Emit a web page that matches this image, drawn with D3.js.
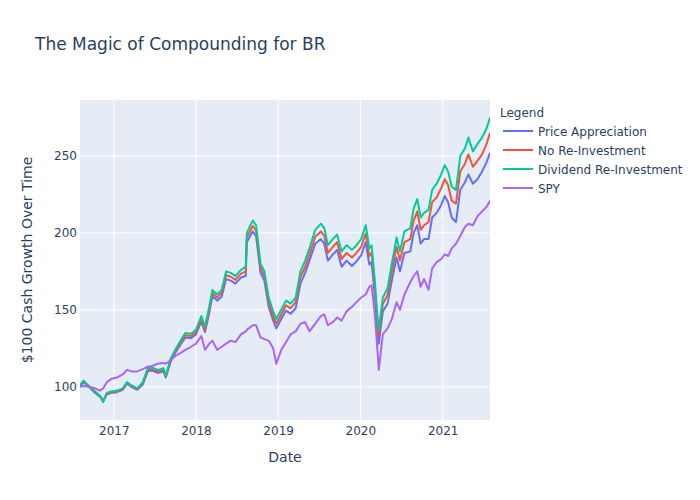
<!DOCTYPE html>
<html>
<head>
<meta charset="utf-8">
<script src="https://cdn.jsdelivr.net/npm/d3@7"></script>
<style>
  body { margin: 0; background: #fff; }
  text { font-family: "DejaVu Sans", Verdana, sans-serif; fill: #2a3f5f; }
</style>
</head>
<body>
<div id="chart_div"></div>
<script>
// values ($100 invested, growth over time)
var dates = ["2016-08-04","2016-08-20","2016-09-15","2016-10-10","2016-11-01","2016-11-15","2016-12-01","2016-12-20",
  "2017-01-15","2017-02-10","2017-03-01","2017-03-20","2017-04-15","2017-05-10","2017-06-01","2017-06-20",
  "2017-07-15","2017-08-10","2017-08-20","2017-09-10","2017-10-01","2017-10-25","2017-11-15","2017-12-10",
  "2018-01-01","2018-01-25","2018-02-10","2018-03-01","2018-03-15","2018-04-05","2018-04-25","2018-05-15",
  "2018-06-05","2018-06-25","2018-07-20","2018-08-10","2018-08-15","2018-09-10","2018-09-25","2018-10-15",
  "2018-11-01","2018-11-20","2018-12-10","2018-12-24","2019-01-15","2019-02-05","2019-02-25","2019-03-20",
  "2019-04-10","2019-05-01","2019-05-20","2019-06-15","2019-07-10","2019-07-25","2019-08-10","2019-09-01",
  "2019-09-20","2019-10-10","2019-11-01","2019-11-25","2019-12-15","2020-01-05","2020-01-25","2020-02-10",
  "2020-02-20","2020-03-05","2020-03-20","2020-03-23","2020-04-10","2020-05-01","2020-05-20","2020-06-10",
  "2020-06-25","2020-07-15","2020-08-10","2020-08-25","2020-09-10","2020-09-25","2020-10-10","2020-10-30",
  "2020-11-15","2020-12-05","2020-12-25","2021-01-10","2021-01-25","2021-02-10","2021-03-01","2021-03-20",
  "2021-04-10","2021-04-25","2021-05-15","2021-06-05","2021-06-25","2021-07-15","2021-07-30"];

var price_appreciation = [100,103,99.5,96,93.5,91,95,96,
  96.5,98,102,100,98,101.5,110,110.5,
  109,110,106,116,122,127.5,132,131.5,
  134,142.5,135.5,148,159,156,158.5,170,
  169,167,171,172,194,201,198,174,
  169,152,143,138,144,149.5,147.5,151,
  167,174,182,193,196,193,182,186,
  189,178,182,178.5,181.5,185.5,194,179.5,
  181,160,131,128,149,154,169,184,
  175,187,188,200,205,193,196,196,
  210,213,218,224,220,210,207,228,
  233,238,232,235,240,246,252];

var no_reinvestment = [101,103.5,100,96.5,94,90.5,95.5,96.5,
  97,98.5,102.5,100.5,98.5,102.5,111,111.5,
  110,111,106.5,117,123,129,133.5,133,
  135.5,144,137,150,161,158,161,172.5,
  171.5,169.5,173.5,175,197,204.5,201.5,177,
  172,155,146,141,147,153,151,155,
  171,178,186,197.5,201,198,187,191,
  194,183,187,184,187,191,199.5,185,
  187,165,136,133,154,159.5,175,191,
  182,194,196,208,214,202,205,207,
  220,223,229,235,231,221,219,240,
  245,251,243,247,251,258,265];

var dividend_reinvestment = [101,104,100,97,94,90,96,97,
  97.5,99,103,101,99,103,112,112.5,
  111,112,107,118,124,130,135,134.5,
  137,146,139,152,163,160,163,175,
  174,172,176,178,200,208,205,180,
  175,158,149,144,150,156,154,158,
  175,182,190,202,206,203,192,196,
  199,188,192,189,192,196,205,190,
  192,170,140,137,158,164,180,197,
  188,201,203,216,222,210,213,215,
  228,232,238,244,240,230,228,250,
  255,262,253,258,262,268,275];

var spy = [100,100.5,100,99,97.5,99,103,105,
  106,108,111,110,110,111.5,113,113.5,
  115,115.5,115,117,120,122,124,126,
  128,133,124,128,130,124,126,128,
  130,129,134,136,137,140,140,132,
  131,130,125,115,124,129,134,136,
  141,142,136,141,146,147,140,142,
  145,143,149,152,155,158,160,165,
  166,148,118,111,134,138,144,155,
  150,160,168,172,175,165,170,163,
  177,181,183,186,185,190,193,198,
  204,206,205,211,214,217,221];

var series_names = ["Price Appreciation", "No Re-Investment", "Dividend Re-Investment", "SPY"];
var series_values = [price_appreciation, no_reinvestment, dividend_reinvestment, spy];
var colors = ["#636efa", "#EF553B", "#00cc96", "#ab63fa"];
var x_ticks = ["2017-01-01", "2018-01-01", "2019-01-01", "2020-01-01", "2021-01-01"];
var y_ticks = [100, 150, 200, 250];

var parseDate = d3.timeParse("%Y-%m-%d");
var dateObjs = dates.map(parseDate);

var margin = {left: 80, top: 100, right: 210, bottom: 80};
var W = 700, H = 500;
var pw = W - margin.left - margin.right;
var ph = H - margin.top - margin.bottom;

var svg = d3.select("#chart_div")
  .append("svg")
    .attr("width", W)
    .attr("height", H);

svg.append("rect")
  .attr("width", W)
  .attr("height", H)
  .attr("fill", "#fff");

var x = d3.scaleTime()
  .domain(d3.extent(dateObjs))
  .range([0, pw]);

var y = d3.scaleLinear()
  .domain([78.4, 286.4])
  .range([ph, 0]);

var g = svg.append("g")
  .attr("transform", `translate(${margin.left}, ${margin.top})`);

g.append("rect")
  .attr("width", pw)
  .attr("height", ph)
  .attr("fill", "#E5ECF6");

// grid lines
var xTickDates = x_ticks.map(parseDate);
g.selectAll(".xgrid").data(xTickDates)
  .enter().append("line")
    .attr("class", "xgrid")
    .attr("x1", d => x(d)).attr("x2", d => x(d))
    .attr("y1", 0).attr("y2", ph)
    .attr("stroke", "#fff")
    .attr("stroke-width", 1);

g.selectAll(".ygrid").data(y_ticks)
  .enter().append("line")
    .attr("class", "ygrid")
    .attr("x1", 0).attr("x2", pw)
    .attr("y1", d => y(d)).attr("y2", d => y(d))
    .attr("stroke", "#fff")
    .attr("stroke-width", 1);

// axes (no domain lines, plotly style)
var xAxis = g.append("g")
  .attr("transform", `translate(0, ${ph})`)
  .call(d3.axisBottom(x).tickValues(xTickDates).tickFormat(d3.timeFormat("%Y")).tickSize(0).tickPadding(6));
xAxis.select(".domain").remove();
xAxis.selectAll("text").attr("font-size", 12).attr("fill", "#2a3f5f");

var yAxis = g.append("g")
  .call(d3.axisLeft(y).tickValues(y_ticks).tickSize(0).tickPadding(3));
yAxis.select(".domain").remove();
yAxis.selectAll("text").attr("font-size", 12).attr("fill", "#2a3f5f");

// lines
var clip = g.append("clipPath")
  .attr("id", "plotclip")
  .append("rect")
    .attr("width", pw)
    .attr("height", ph);

var line = d3.line()
  .x((d, i) => x(dateObjs[i]))
  .y(d => y(d));

for (let i in series_values) {
  g.append("path")
    .datum(series_values[i])
    .attr("fill", "none")
    .attr("stroke", colors[i])
    .attr("stroke-width", 2)
    .attr("stroke-linejoin", "round")
    .attr("clip-path", "url(#plotclip)")
    .attr("d", line);
}

// titles
svg.append("text")
  .attr("x", 35)
  .attr("y", 50)
  .attr("font-size", 17)
  .text("The Magic of Compounding for BR");

svg.append("text")
  .attr("x", margin.left + pw / 2)
  .attr("y", 462)
  .attr("text-anchor", "middle")
  .attr("font-size", 14)
  .text("Date");

svg.append("text")
  .attr("transform", `translate(32, ${margin.top + ph / 2}) rotate(-90)`)
  .attr("text-anchor", "middle")
  .attr("font-size", 14)
  .text("$100 Cash Growth Over Time");

// legend
var legend = svg.append("g")
  .attr("transform", "translate(500, 0)");

legend.append("text")
  .attr("x", 0)
  .attr("y", 117)
  .attr("font-size", 12)
  .text("Legend");

var items = legend.selectAll(".item").data(series_names)
  .enter().append("g")
    .attr("class", "item")
    .attr("transform", (d, i) => `translate(0, ${131 + i * 19})`);

items.append("line")
  .attr("x1", 3).attr("x2", 33)
  .attr("y1", 0).attr("y2", 0)
  .attr("stroke", (d, i) => colors[i])
  .attr("stroke-width", 2);

items.append("text")
  .attr("x", 38)
  .attr("y", 4.5)
  .attr("font-size", 12)
  .text(d => d);
</script>
</body>
</html>
